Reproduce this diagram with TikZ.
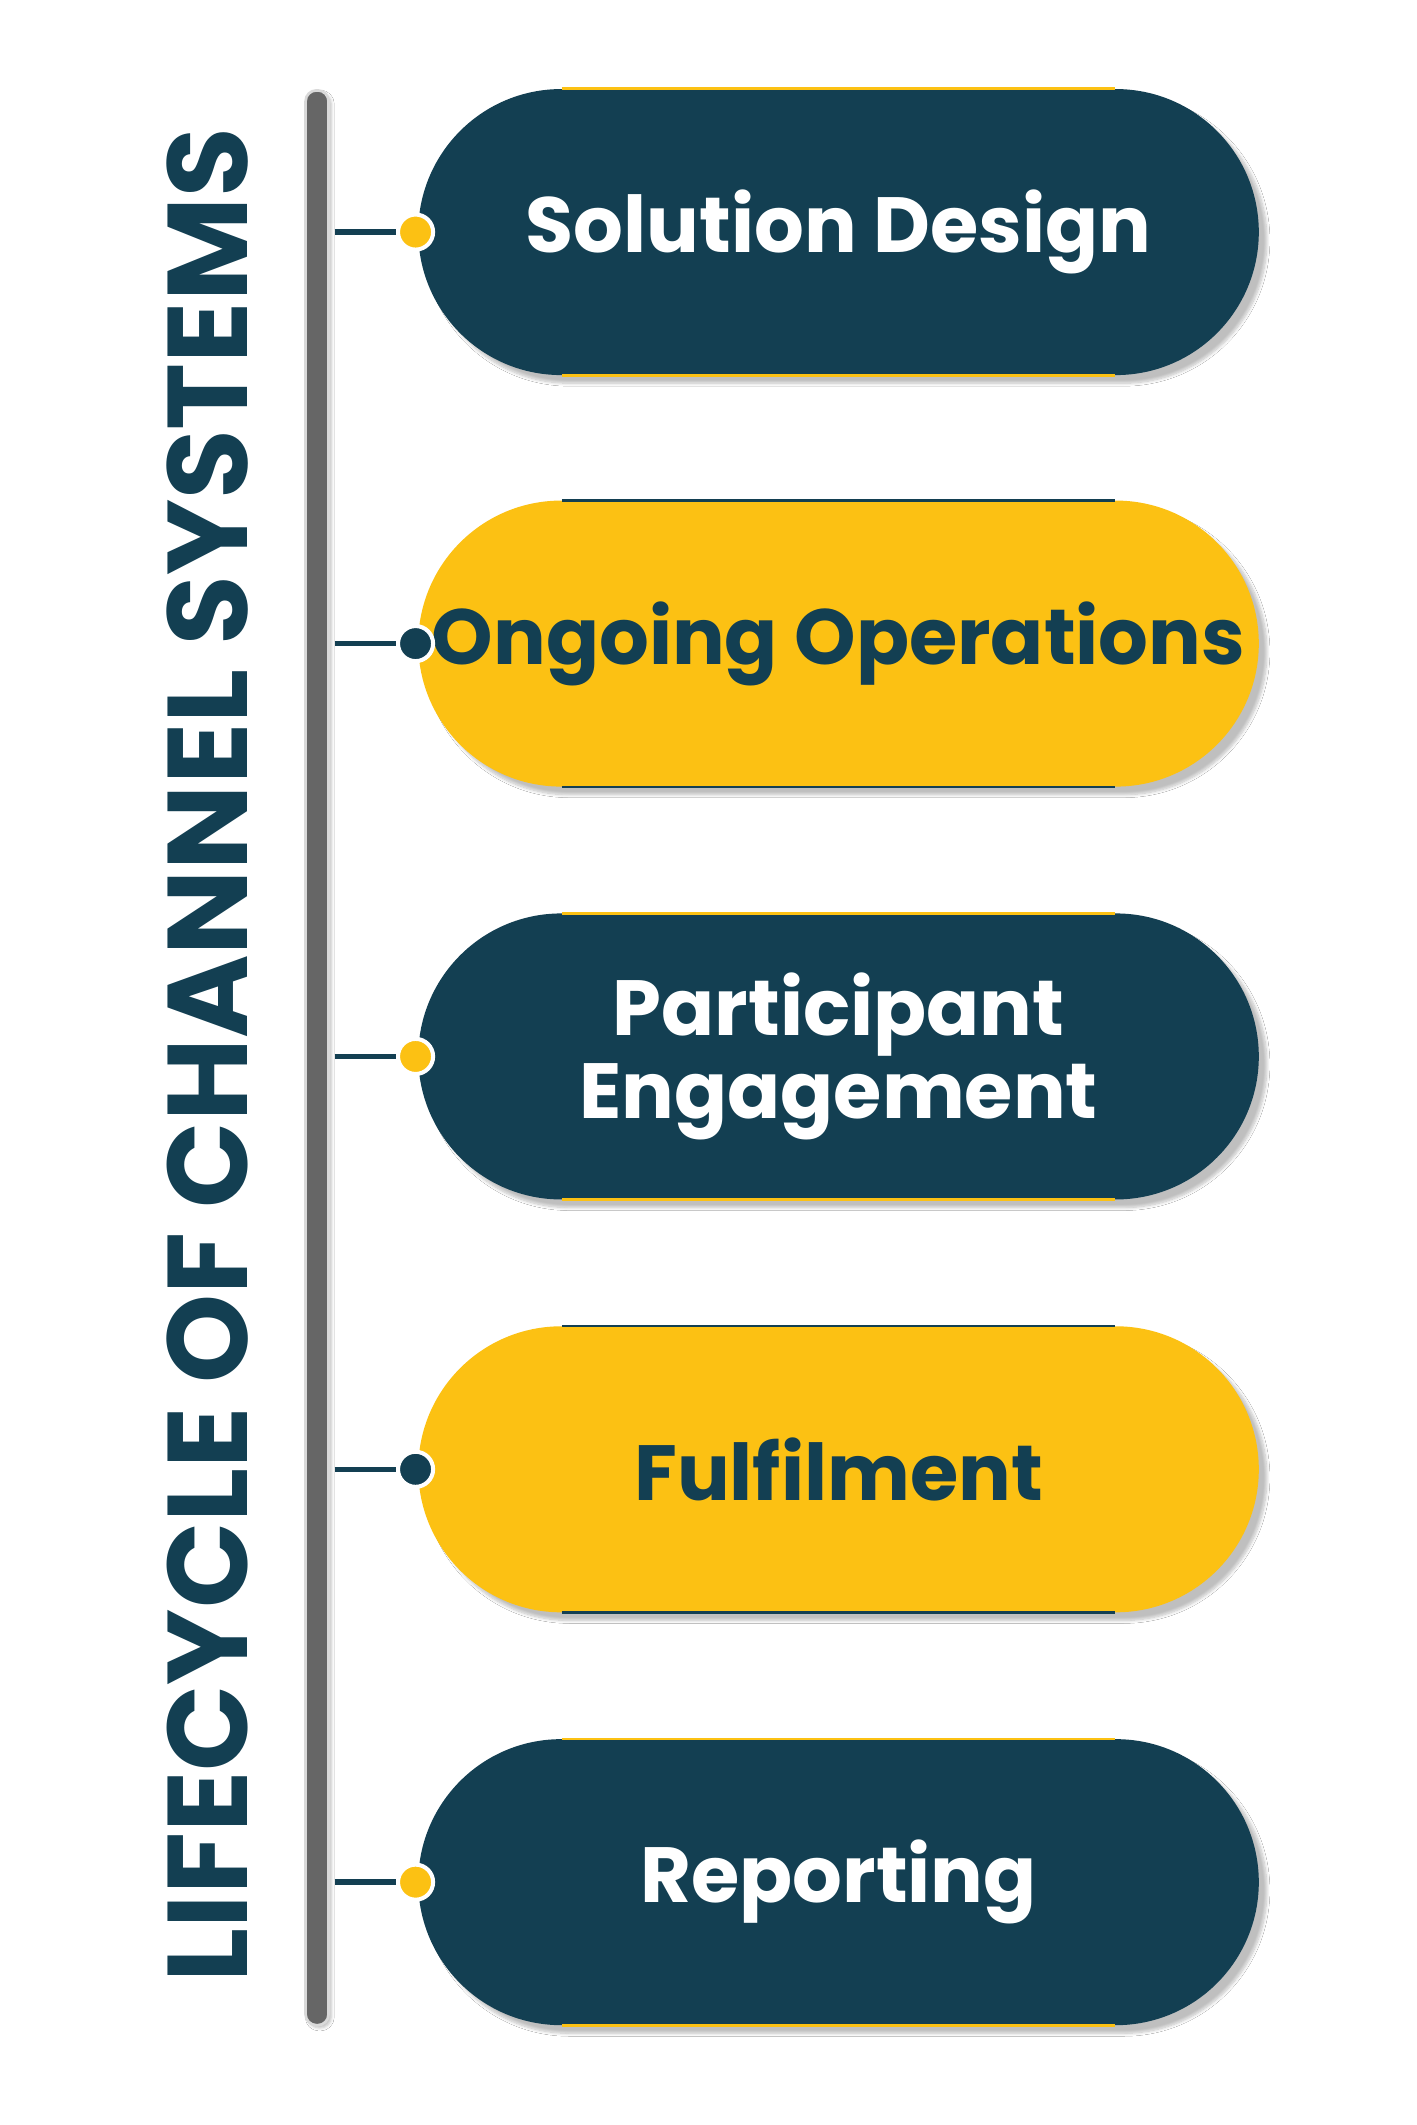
\documentclass[tikz,border=0pt]{standalone}
\usepackage{fontspec}
\setmainfont{Poppins}
\usetikzlibrary{shadows.blur}
\definecolor{dk}{HTML}{133F52}
\definecolor{yl}{HTML}{FCC113}
\tikzset{
 pill/.style={rounded corners=106pt,minimum width=623pt,minimum height=212pt,inner sep=0pt,
   blur shadow={shadow xshift=6pt,shadow yshift=-6pt,shadow blur steps=8,shadow opacity=25},
   font=\fontsize{58}{68}\selectfont\bfseries,align=center},
 darkpill/.style={pill,fill=dk,text=white},
 yelpill/.style={pill,fill=yl,text=dk},
 dotd/.style={circle,fill=dk,draw=white,line width=3pt,minimum size=26pt,inner sep=0pt},
 doty/.style={circle,fill=yl,draw=white,line width=3pt,minimum size=26pt,inner sep=0pt},
 conn/.style={draw=dk,line width=4pt},
}
\begin{document}
\begin{tikzpicture}[x=1pt,y=-1pt]
\useasboundingbox (0,0) rectangle (1050,1575);
\fill[white] (0,0) rectangle (1050,1575);
% vertical bar
\node[draw=white!85!black,line width=2pt,fill=black!60,rounded corners=8pt,minimum width=17pt,minimum height=1434pt,inner sep=0pt,
  blur shadow={shadow xshift=2pt,shadow yshift=-2pt,shadow opacity=25}] (bar) at (235,784) {};
\node[rotate=90,text=dk,font=\fontsize{84}{90}\selectfont\bfseries] (title) at (154,782) {LIFECYCLE OF CHANNEL SYSTEMS};
\foreach \i/\y/\st/\dt/\lc/\txt in {
 1/172/darkpill/doty/yl/{Solution Design},
 2/477/yelpill/dotd/dk/{Ongoing Operations},
 3/783/darkpill/doty/yl/{Participant\\[-6pt]Engagement},
 4/1089/yelpill/dotd/dk/{Fulfilment},
 5/1395/darkpill/doty/yl/{Reporting}}{
  \node[\st] (p\i) at (621.5,\y) {\txt};
  \draw[\lc,line width=2pt] ([xshift=-205pt]p\i.north) -- ([xshift=205pt]p\i.north);
  \draw[\lc,line width=2pt] ([xshift=-205pt]p\i.south) -- ([xshift=205pt]p\i.south);
  \coordinate (c\i) at (248,\y);
  \node[\dt] (d\i) at (308,\y) {};
  \draw[conn] (c\i) -- (d\i.west);
}
\end{tikzpicture}
\end{document}
